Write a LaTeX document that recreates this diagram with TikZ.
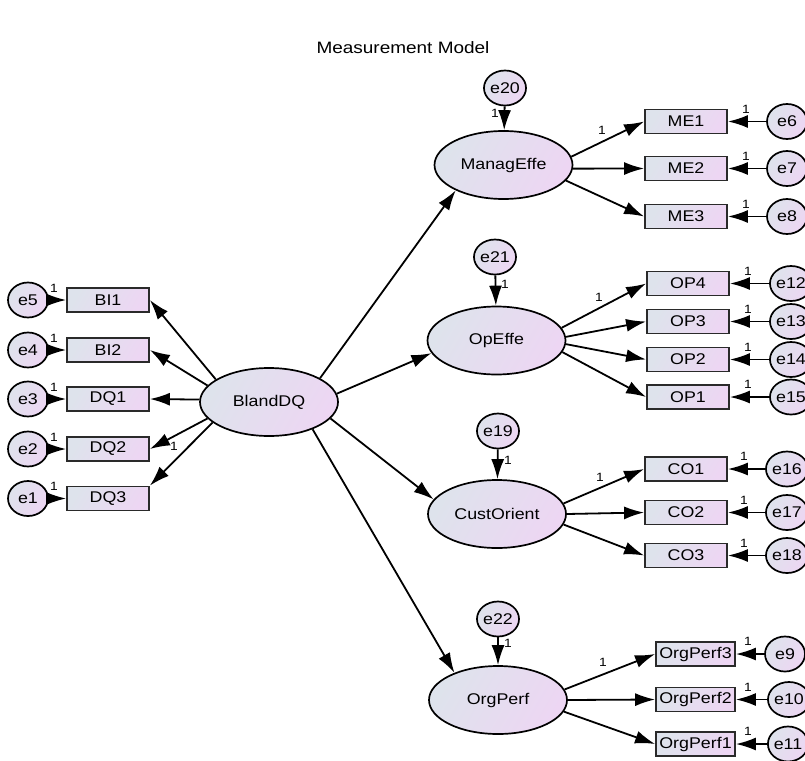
\documentclass[tikz,border=0pt]{standalone}
\usepackage{fontspec}
\setmainfont{Liberation Sans}[FakeStretch=1.15]
\usetikzlibrary{arrows.meta,shapes.geometric}
\definecolor{gA}{HTML}{DEE3EC}
\definecolor{gB}{HTML}{EDD6F3}
\definecolor{bord}{HTML}{2A2A2A}
\begin{document}
\begin{tikzpicture}[x=1pt,y=-1pt,
  every node/.style={font=\fontsize{15.5}{18}\selectfont, text=black},
  shd/.style={left color=gA, right color=gB, shading angle=60},
  lat/.style={ellipse, draw=black, line width=1.7pt, minimum width=138pt, minimum height=68pt, inner sep=0pt, shd},
  obs/.style={rectangle, draw=bord, line width=1.8pt, minimum width=82pt, minimum height=24pt, inner sep=0pt, shd},
  obsw/.style={obs, minimum width=79pt},
  err/.style={ellipse, draw=black, line width=1.7pt, minimum width=40pt, minimum height=35pt, inner sep=0pt, shd},
  arr/.style={-{Latex[length=20pt,width=13pt]}, line width=1.8pt, draw=black},
  one/.style={font=\fontsize{12}{14}\selectfont, inner sep=0pt}
]
\clip (0,0) rectangle (805,760);
\node[font=\fontsize{16.5}{20}\selectfont] (title) at (403,48) {Measurement Model};

% latent variables
\node[lat] (bland) at (269,402) {BlandDQ};
\node[lat] (manag) at (503.5,165) {ManagEffe};
\node[lat] (opeffe) at (496.5,340.5) {OpEffe};
\node[lat] (cust) at (497,514) {CustOrient};
\node[lat] (org) at (498,700) {OrgPerf};

% disturbances
\node[err] (e20) at (505,88) {e20};
\node[err] (e21) at (495,257) {e21};
\node[err] (e19) at (498,431) {e19};
\node[err] (e22) at (498,619) {e22};

% left indicators
\node[obs] (bi1) at (108,300) {BI1};
\node[obs] (bi2) at (108,350) {BI2};
\node[obs] (dq1) at (108,399) {DQ1};
\node[obs] (dq2) at (108,449) {DQ2};
\node[obs] (dq3) at (108,498.5) {DQ3};
\node[err] (e5) at (28,300) {e5};
\node[err] (e4) at (28,350) {e4};
\node[err] (e3) at (28,399) {e3};
\node[err] (e2) at (28,449) {e2};
\node[err] (e1) at (28,498.5) {e1};

% right indicators
\node[obs] (me1) at (686,121.5) {ME1};
\node[obs] (me2) at (686,168.5) {ME2};
\node[obs] (me3) at (686,216.5) {ME3};
\node[err] (e6) at (787,121.5) {e6};
\node[err] (e7) at (787,168.5) {e7};
\node[err] (e8) at (787,216.5) {e8};

\node[obs] (op4) at (688,283.5) {OP4};
\node[obs] (op3) at (688,321.5) {OP3};
\node[obs] (op2) at (688,359.5) {OP2};
\node[obs] (op1) at (688,397) {OP1};
\node[err] (e12) at (791,283.5) {e12};
\node[err] (e13) at (791,321.5) {e13};
\node[err] (e14) at (791,359.5) {e14};
\node[err] (e15) at (791,397) {e15};

\node[obs] (co1) at (686,469) {CO1};
\node[obs] (co2) at (686,512.5) {CO2};
\node[obs] (co3) at (686,555.5) {CO3};
\node[err] (e16) at (787,469) {e16};
\node[err] (e17) at (787,512.5) {e17};
\node[err] (e18) at (787,555.5) {e18};

\node[obsw] (op3b) at (695.5,654) {OrgPerf3};
\node[obsw] (op2b) at (695.5,699.5) {OrgPerf2};
\node[obsw] (op1b) at (695.5,744) {OrgPerf1};
\node[err] (e9) at (785,654) {e9};
\node[err] (e10) at (789,699.5) {e10};
\node[err] (e11) at (788,744) {e11};

% structural paths
\draw[arr] (bland.25) -- (manag.208);
\draw[arr] (bland.7) -- (opeffe.191);
\draw[arr] (bland.-15) -- (cust.167);
\draw[arr] (bland.-32) -- (org.148);

% BlandDQ loadings
\draw[arr] (bland.157) -- (bi1.east);
\draw[arr] (bland.165) -- (bi2.east);
\draw[arr] (bland.178) -- (dq1.east);
\draw[arr] (bland.195) -- (dq2.east);
\draw[arr] (bland.200) -- (dq3.north east);
\node[one] (l0) at (174,446) {1};

% left error arrows
\foreach \e/\b in {e5/bi1,e4/bi2,e3/dq1,e2/dq2,e1/dq3}{
  \draw[arr] (\e) -- (\b);
  \node[one] at ([xshift=5pt,yshift=12pt]\e.east) {1};
}

% ManagEffe
\draw[arr] (manag.7) -- (me1.west);
\draw[arr] (manag.-3) -- (me2.west);
\draw[arr] (manag.-14) -- (me3.west);
\node[one] (l1) at (602,130) {1};
% OpEffe
\draw[arr] (opeffe.11.5) -- (op4.west);
\draw[arr] (opeffe.3.7) -- (op3.west);
\draw[arr] (opeffe.-3.7) -- (op2.west);
\draw[arr] (opeffe.-10.5) -- (op1.west);
\node[one] (l2) at (599,297) {1};
% CustOrient
\draw[arr] (cust.9) -- (co1.west);
\draw[arr] (cust.0) -- (co2.west);
\draw[arr] (cust.-9) -- (co3.west);
\node[one] (l3) at (600,477) {1};
% OrgPerf
\draw[arr] (org.9) -- (op3b.west);
\draw[arr] (org.0) -- (op2b.west);
\draw[arr] (org.-10) -- (op1b.west);
\node[one] (l4) at (603,662) {1};

% right error arrows
\foreach \e/\b/\dx in {e6/me1/18,e7/me2/18,e8/me3/18,e12/op4/18,e13/op3/18,e14/op2/18,e15/op1/18,e16/co1/16,e17/co2/16,e18/co3/16,e9/op3b/12,e10/op2b/12,e11/op1b/12}{
  \draw[arr] (\e) -- (\b);
  \node[one] at ([xshift=\dx pt,yshift=12.5pt]\b.east) {1};
}

% disturbance arrows
\draw[arr] (e20) -- (manag);
\draw[arr] (e21) -- (opeffe);
\draw[arr] (e19) -- (cust);
\draw[arr] (e22) -- (org);
\node[one] (d20) at (495,113) {1};
\node[one] (d21) at (505,284) {1};
\node[one] (d19) at (508,460) {1};
\node[one] (d22) at (508,643) {1};
\end{tikzpicture}
\end{document}
